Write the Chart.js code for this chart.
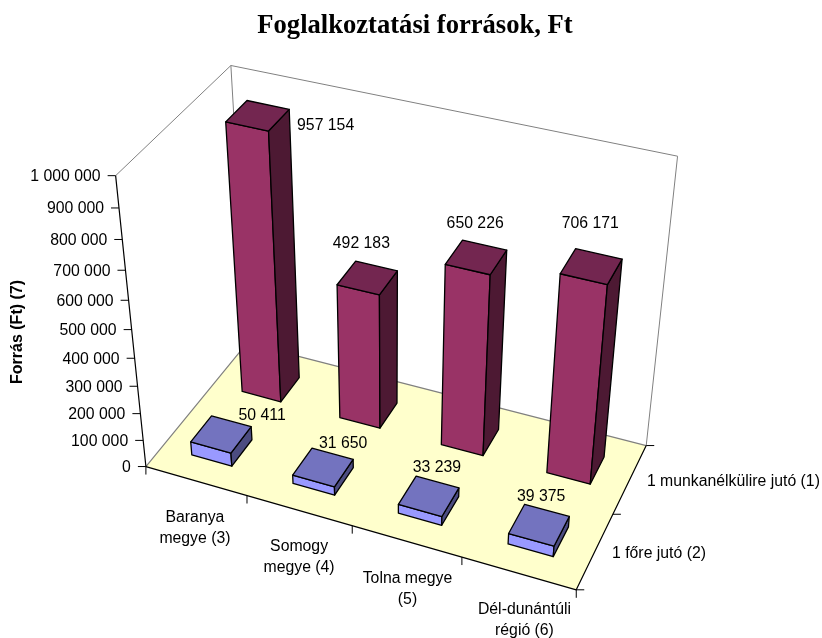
<!DOCTYPE html>
<html>
<head>
<meta charset="utf-8">
<script src="https://cdn.jsdelivr.net/npm/chart.js@4"></script>
<style>
body { margin: 0; background: #fff; }
</style>
</head>
<body>
<canvas id="chart" width="822" height="638"></canvas>
<script>
// values
var categories = [['Baranya', 'megye (3)'], ['Somogy', 'megye (4)'], ['Tolna megye', '(5)'], ['Dél-dunántúli', 'régió (6)']];
var seriesNames = ['1 munkanélkülire jutó (1)', '1 főre jutó (2)'];
var perUnemployed = [957154, 492183, 650226, 706171];
var perPerson = [50411, 31650, 33239, 39375];
var valueTicksMax = 1000000;
var valueTicksStep = 100000;

// where the corners of the 3D box sit on the page
// [u (along categories), v (depth, 0 = front), w (height)] -> [px, py]
var boxCorners = [
    [[0, 0, 0], [146.7, 465.7]],
    [[0, 1, 0], [246, 344.3]],
    [[1, 1, 0], [646.7, 444.3]],
    [[1, 0, 0], [576, 590.7]],
    [[0, 0, 1], [115, 175.7]],
    [[0, 1, 1], [231.7, 65]],
    [[1, 1, 1], [677.3, 156.7]]
];

var barDepth = 0.4;   // share of a depth band used by a bar

// data label shift from the centre of the bar's top, [series][category]
var labelShift = [
    [[68, 10], [-6, -34], [-1, -34], [-1, -43]],
    [[41, -19], [20, -24], [8, -28], [2, -28]]
];
// category label shift from the front edge
var catLabelShift = [[-1, 36.5], [0, 36], [1, 37], [6, 36]];

var faces = [
    { front: '#993366', top: '#732650', side: '#4d1933' },
    { front: '#9999ff', top: '#7373bf', side: '#4c4c80' }
];

function solve(A, b) {
    var n = b.length;
    for (var i = 0; i < n; i++) {
        var best = i;
        for (var r = i + 1; r < n; r++) {
            if (Math.abs(A[r][i]) > Math.abs(A[best][i])) best = r;
        }
        var t = A[i]; A[i] = A[best]; A[best] = t;
        t = b[i]; b[i] = b[best]; b[best] = t;
        for (var k = i + 1; k < n; k++) {
            var f = A[k][i] / A[i][i];
            for (var c = i; c < n; c++) A[k][c] -= f * A[i][c];
            b[k] -= f * b[i];
        }
    }
    var out = new Array(n);
    for (var j = n - 1; j >= 0; j--) {
        var s = b[j];
        for (var m = j + 1; m < n; m++) s -= A[j][m] * out[m];
        out[j] = s / A[j][j];
    }
    return out;
}

// least squares fit of a projective camera to the box corners
function fitCamera(pts) {
    var rows = [], rhs = [];
    pts.forEach(function(p) {
        var u = p[0][0], v = p[0][1], w = p[0][2], x = p[1][0], y = p[1][1];
        rows.push([u, v, w, 1, 0, 0, 0, 0, -x * u, -x * v, -x * w]); rhs.push(x);
        rows.push([0, 0, 0, 0, u, v, w, 1, -y * u, -y * v, -y * w]); rhs.push(y);
    });
    var N = [], d = [];
    for (var i = 0; i < 11; i++) {
        N.push([]);
        d.push(0);
        for (var j = 0; j < 11; j++) {
            var s = 0;
            for (var r = 0; r < rows.length; r++) s += rows[r][i] * rows[r][j];
            N[i].push(s);
        }
        for (var q = 0; q < rows.length; q++) d[i] += rows[q][i] * rhs[q];
    }
    return solve(N, d);
}

var cam = fitCamera(boxCorners);

function project(u, v, w) {
    var h = cam[8] * u + cam[9] * v + cam[10] * w + 1;
    return [
        (cam[0] * u + cam[1] * v + cam[2] * w + cam[3]) / h,
        (cam[4] * u + cam[5] * v + cam[6] * w + cam[7]) / h
    ];
}

function poly(ctx, pts, fill, stroke, lineWidth) {
    ctx.beginPath();
    pts.forEach(function(p, i) {
        if (i === 0) ctx.moveTo(p[0], p[1]); else ctx.lineTo(p[0], p[1]);
    });
    if (fill) { ctx.closePath(); ctx.fillStyle = fill; ctx.fill(); }
    if (stroke) { ctx.strokeStyle = stroke; ctx.lineWidth = lineWidth || 1; ctx.stroke(); }
}

function tick(ctx, p, dx, dy) {
    poly(ctx, [p, [p[0] + dx, p[1] + dy]], null, '#000', 1);
}

var box3d = {
    id: 'box3d',
    // the flat bars only carry the geometry, the 3D ones are drawn below
    beforeDatasetDraw: function() { return false; },
    afterDatasetsDraw: function(chart) {
        var ctx = chart.ctx;
        var xs = chart.scales.x, ys = chart.scales.y, zs = chart.scales.z;
        ctx.save();
        ctx.lineJoin = 'round';

        // floor and walls
        poly(ctx, [project(0, 0, 0), project(0, 1, 0), project(1, 1, 0), project(1, 0, 0)], '#ffffcc');
        poly(ctx, [project(0, 0, 0), project(0, 1, 0), project(1, 1, 0)], null, '#808080', 1.2);
        poly(ctx, [project(0, 0, 1), project(0, 1, 1), project(1, 1, 1), project(1, 1, 0)], null, '#808080', 1);
        poly(ctx, [project(0, 1, 1), project(0, 1, 0)], null, '#808080', 1);

        // axes
        poly(ctx, [project(0, 0, 1), project(0, 0, 0), project(1, 0, 0), project(1, 1, 0)], null, '#000', 1.2);

        ctx.font = '15.8px "Liberation Sans"';
        ctx.fillStyle = '#000';
        ctx.textBaseline = 'middle';

        // value axis
        ctx.textAlign = 'right';
        ys.ticks.forEach(function(t) {
            var p = project(0, 0, (ys.bottom - ys.getPixelForValue(t.value)) / ys.height);
            tick(ctx, p, -8, 0);
            ctx.fillStyle = '#000';
            ctx.fillText(t.label, p[0] - 15, p[1] + 1);
        });

        // category axis
        ctx.textAlign = 'center';
        var i;
        for (i = 0; i <= categories.length; i++) {
            tick(ctx, project(i / categories.length, 0, 0), 0, 8);
        }
        categories.forEach(function(lines, c) {
            var p = project((xs.getPixelForValue(c) - xs.left) / xs.width, 0, 0);
            lines.forEach(function(line, l) {
                ctx.fillStyle = '#000';
                ctx.fillText(line, p[0] + catLabelShift[c][0], p[1] + catLabelShift[c][1] + l * 21);
            });
        });

        // depth axis
        ctx.textAlign = 'left';
        for (i = 0; i <= seriesNames.length; i++) {
            tick(ctx, project(1, i / seriesNames.length, 0), 8, 0);
        }
        seriesNames.forEach(function(name, s) {
            var p = project(1, 1 - (zs.getPixelForValue(s) - zs.left) / zs.width, 0);
            ctx.fillStyle = '#000';
            ctx.fillText(name, p[0] + 17, p[1] + 3);
        });

        // bars, back row first
        chart.data.datasets.forEach(function(ds, s) {
            var els = chart.getDatasetMeta(s).data;
            var vc = 1 - (zs.getPixelForValue(s) - zs.left) / zs.width;
            var vh = barDepth / seriesNames.length / 2;
            els.forEach(function(el, c) {
                var uc = (el.x - xs.left) / xs.width;
                var uh = el.width / 2 / xs.width;
                var w = (ys.bottom - el.y) / ys.height;
                var u0 = uc - uh, u1 = uc + uh, v0 = vc - vh, v1 = vc + vh;
                var f = faces[s];
                var lw = 1.3;
                poly(ctx, [project(u0, v0, 0), project(u1, v0, 0), project(u1, v0, w), project(u0, v0, w)], f.front, '#000', lw);
                poly(ctx, [project(u1, v0, 0), project(u1, v1, 0), project(u1, v1, w), project(u1, v0, w)], f.side, '#000', lw);
                poly(ctx, [project(u0, v0, w), project(u1, v0, w), project(u1, v1, w), project(u0, v1, w)], f.top, '#000', lw);
            });
        });

        // data labels
        ctx.textAlign = 'center';
        chart.data.datasets.forEach(function(ds, s) {
            var els = chart.getDatasetMeta(s).data;
            var vc = 1 - (zs.getPixelForValue(s) - zs.left) / zs.width;
            els.forEach(function(el, c) {
                var p = project((el.x - xs.left) / xs.width, vc, (ys.bottom - el.y) / ys.height);
                ctx.fillStyle = '#000';
                ctx.fillText(formatValue(ds.data[c]), p[0] + labelShift[s][c][0], p[1] + labelShift[s][c][1]);
            });
        });
        ctx.restore();
    }
};

function formatValue(v) {
    return String(v).replace(/\B(?=(\d{3})+$)/g, ' ');
}

new Chart(document.getElementById('chart').getContext('2d'), {
    type: 'bar',
    data: {
        labels: categories,
        datasets: [
            { label: seriesNames[0], data: perUnemployed, backgroundColor: faces[0].front },
            { label: seriesNames[1], data: perPerson, backgroundColor: faces[1].front }
        ]
    },
    options: {
        responsive: false,
        animation: false,
        layout: { padding: { left: 8, bottom: 24 } },
        datasets: { bar: { grouped: false, barPercentage: 0.4, categoryPercentage: 1 } },
        scales: {
            x: { display: false },
            z: { type: 'category', axis: 'x', display: false, labels: seriesNames, offset: true },
            y: {
                min: 0,
                max: valueTicksMax,
                grid: { display: false },
                border: { display: false },
                ticks: {
                    display: false,
                    stepSize: valueTicksStep,
                    callback: function(v) { return formatValue(v); }
                },
                title: {
                    display: true,
                    text: 'Forrás (Ft) (7)',
                    color: '#000',
                    font: { family: '"Liberation Sans"', size: 16, weight: 'bold' },
                    padding: 0
                }
            }
        },
        plugins: {
            legend: { display: false },
            tooltip: { enabled: false },
            title: {
                display: true,
                text: 'Foglalkoztatási források, Ft',
                color: '#000',
                font: { family: '"Liberation Serif"', size: 26.6, weight: 'bold' },
                padding: { top: 10, bottom: 8 }
            }
        }
    },
    plugins: [box3d]
});
</script>
</body>
</html>
